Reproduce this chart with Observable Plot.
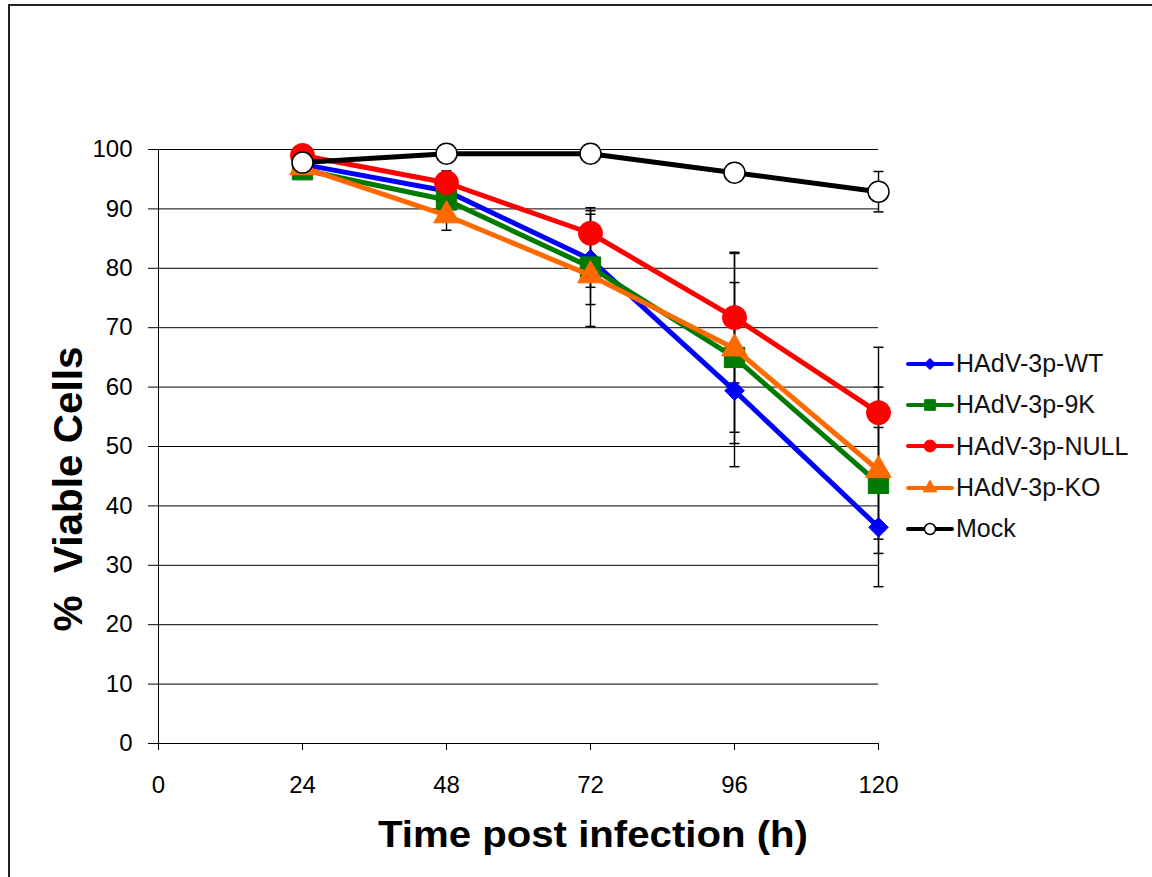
<!DOCTYPE html>
<html><head><meta charset="utf-8">
<script src="https://cdn.jsdelivr.net/npm/d3@7"></script>
<script src="https://cdn.jsdelivr.net/npm/@observablehq/plot@0.6"></script>
<style>
body{margin:0;background:#fff;overflow:hidden}
#wrap{position:relative;width:1152px;height:877px;overflow:hidden;font-family:"Liberation Sans",Arial,sans-serif;background:#fff}
#frame{position:absolute;left:8px;top:4px;width:1200px;height:1000px;border:2px solid #222;pointer-events:none}
#chart{position:absolute;left:0;top:0}
#legend{position:absolute;left:906px;top:343px}
.item{display:flex;align-items:center;height:41.3px;font-size:25px;color:#111;white-space:nowrap}
.item svg{margin-right:2px}
</style></head>
<body>
<div id="wrap"><div id="chart"></div><div id="legend"></div><div id="frame"></div></div>
<script>
// ---- data ----
const times = [24, 48, 72, 96, 120];
const seriesNames = ["HAdV-3p-WT", "HAdV-3p-9K", "HAdV-3p-NULL", "HAdV-3p-KO", "Mock"];
const wt   = [97.5, 93.0, 81.5, 59.4, 36.4];
const k9   = [96.6, 91.5, 80.2, 65.0, 43.8];
const nul  = [99.0, 94.4, 85.9, 71.7, 55.7];
const ko   = [97.0, 88.9, 78.8, 66.5, 46.0];
const mock = [97.8, 99.3, 99.3, 96.1, 92.9];
const wtErr   = [1.0, 2.0, 7.6, 12.8, 10.0];
const k9Err   = [1.0, 2.0, 10.0, 12.6, 9.4];
const nulErr  = [1.0, 2.0, 3.8, 11.0, 11.0];
const koErr   = [1.0, 2.5, 2.0, 16.0, 14.0];
const mockErr = [0.5, 0.5, 0.5, 0.5, 3.4];
const xTicks = [0, 24, 48, 72, 96, 120];
const yTicks = [0, 10, 20, 30, 40, 50, 60, 70, 80, 90, 100];
const xTitle = "Time post infection (h)";
const yTitle = "%  Viable Cells";

// ---- styles ----
const styles = [
  {color: "#0000FF", symbol: "diamond2", fill: "#0000FF", stroke: "#0000FF", r: 8.8, lr: 5},
  {color: "#007A00", symbol: "square", fill: "#007A00", stroke: "#007A00", r: 11.5, lr: 6},
  {color: "#FF0000", symbol: "circle", fill: "#FF0000", stroke: "#FF0000", r: 12, lr: 6},
  {color: "#FF6A00", symbol: "triangle", fill: "#FF6A00", stroke: "#FF6A00", r: 9.5, lr: 5},
  {color: "#000000", symbol: "circle", fill: "#FFFFFF", stroke: "#000000", r: 10.5, lr: 5.5}
];
const valueSets = [wt, k9, nul, ko, mock];
const errSets = [wtErr, k9Err, nulErr, koErr, mockErr];

const series = seriesNames.map((name, k) => ({
  name, style: styles[k],
  rows: times.map((t, i) => ({t, v: valueSets[k][i], lo: valueSets[k][i] - errSets[k][i], hi: valueSets[k][i] + errSets[k][i]}))
}));
const allRows = series.flatMap(s => s.rows);

const cap = {draw(ctx, size) { const w = Math.sqrt(size / Math.PI); ctx.moveTo(-w, 0); ctx.lineTo(w, 0); }};

const marks = [
  Plot.gridY({ticks: yTicks.filter(d => d > 0), stroke: "#000", strokeOpacity: 1, strokeWidth: 1}),
  Plot.ruleY([0], {stroke: "#000", strokeWidth: 1}),
  Plot.ruleX([0], {stroke: "#000", strokeWidth: 1}),
  Plot.axisY({ticks: yTicks, tickSize: 10, tickPadding: 16, fontSize: 24, label: null, stroke: "#000"}),
  Plot.axisX({ticks: xTicks, tickSize: 7, tickPadding: 25, fontSize: 24, label: null, stroke: "#000"}),
  Plot.ruleX(allRows, {x: "t", y1: "lo", y2: "hi", stroke: "#000", strokeWidth: 1.4}),
  Plot.dot(allRows, {x: "t", y: "lo", symbol: cap, r: 5, stroke: "#000", strokeWidth: 1.5, fill: "none"}),
  Plot.dot(allRows, {x: "t", y: "hi", symbol: cap, r: 5, stroke: "#000", strokeWidth: 1.5, fill: "none"})
];
for (const s of series) {
  marks.push(Plot.line(s.rows, {x: "t", y: "v", stroke: s.style.color, strokeWidth: 5, strokeLinejoin: "round"}));
  marks.push(Plot.dot(s.rows, {x: "t", y: "v", symbol: s.style.symbol, r: s.style.r, fill: s.style.fill, stroke: s.style.stroke, strokeWidth: s.name === "Mock" ? 1.5 : 1}));
}

const chart = Plot.plot({
  width: 1152, height: 877,
  marginLeft: 158, marginRight: 274, marginTop: 149, marginBottom: 134,
  style: {fontFamily: '"Liberation Sans", Arial, sans-serif', color: "#000", background: "transparent"},
  x: {domain: [0, 120]},
  y: {domain: [0, 100]},
  marks
});
document.getElementById("chart").appendChild(chart);

// axis titles
const svg = d3.select(chart);
svg.append("text").attr("x", 593).attr("y", 847).attr("text-anchor", "middle")
  .attr("font-size", 37).attr("font-weight", "bold").attr("fill", "#000")
  .attr("font-family", '"Liberation Sans", Arial, sans-serif')
  .attr("textLength", 430).attr("lengthAdjust", "spacingAndGlyphs")
  .text(xTitle);
svg.append("text").attr("transform", "translate(82,489) rotate(-90)").attr("text-anchor", "middle")
  .attr("font-size", 40).attr("font-weight", "bold").attr("fill", "#000")
  .attr("font-family", '"Liberation Sans", Arial, sans-serif')
  .attr("textLength", 285).attr("lengthAdjust", "spacingAndGlyphs")
  .style("white-space", "pre")
  .text(yTitle);

// legend
const leg = d3.select("#legend");
series.forEach(s => {
  const it = leg.append("div").attr("class", "item");
  const sv = it.append("svg").attr("width", 48).attr("height", 24);
  sv.append("line").attr("x1", 2).attr("x2", 46).attr("y1", 12).attr("y2", 12)
    .attr("stroke", s.style.color).attr("stroke-width", 4).attr("stroke-linecap", "round");
  const sym = s.style.symbol === "diamond2" ? d3.symbolDiamond2 : s.style.symbol === "square" ? d3.symbolSquare
    : s.style.symbol === "triangle" ? d3.symbolTriangle : d3.symbolCircle;
  const size = Math.PI * s.style.lr * s.style.lr;
  sv.append("path").attr("transform", "translate(24,12)").attr("d", d3.symbol(sym, size)())
    .attr("fill", s.style.fill).attr("stroke", s.style.stroke).attr("stroke-width", s.name === "Mock" ? 1.5 : 1);
  it.append("span").text(s.name);
});
</script>
</body></html>
